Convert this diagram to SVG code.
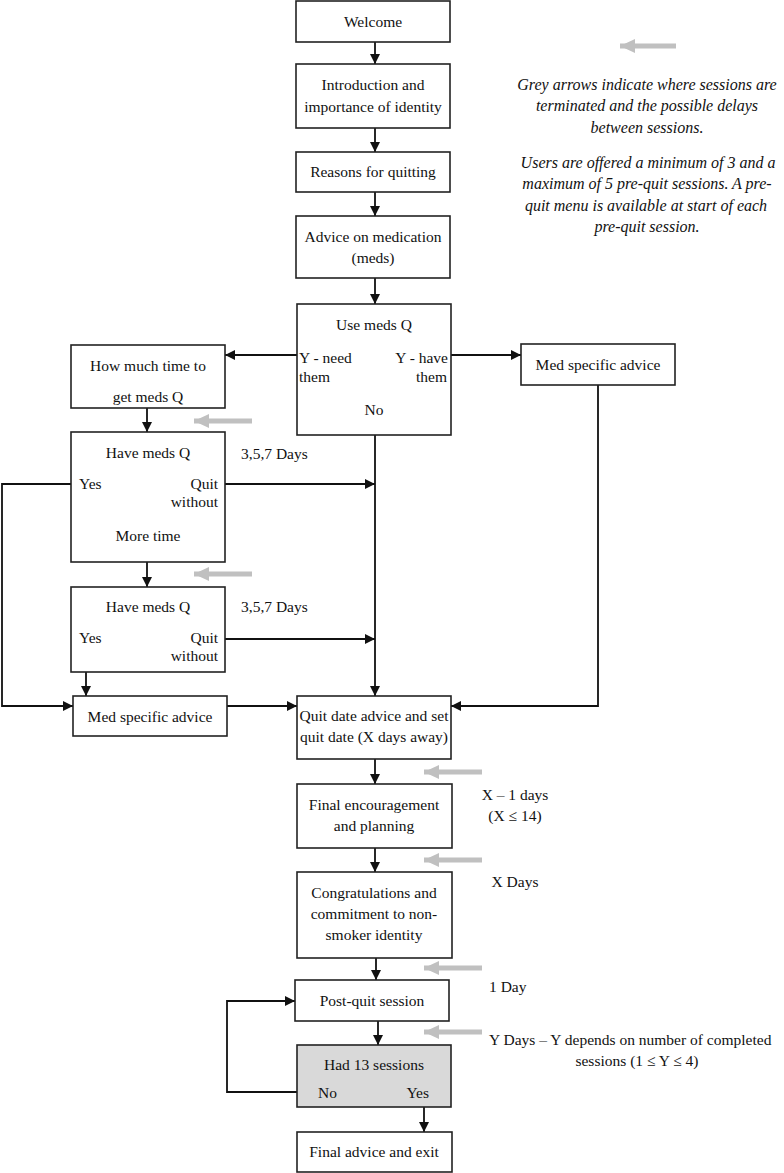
<svg xmlns="http://www.w3.org/2000/svg" width="784" height="1173" viewBox="0 0 784 1173">
<style>
.box{fill:#fff;stroke:#222;stroke-width:1.6}
.grey{fill:#d9d9d9;stroke:#222;stroke-width:1.6}
text{font-family:"Liberation Serif","Times New Roman",serif;font-size:15.5px;fill:#111}
.c{text-anchor:middle}
.r{text-anchor:end}
.it{font-style:italic;font-size:16px;text-anchor:middle}
.con{fill:none;stroke:#111;stroke-width:1.8;marker-end:url(#ah)}
.line{fill:none;stroke:#111;stroke-width:1.8}
.ga{fill:none;stroke:#c0c0c0;stroke-width:5;marker-end:url(#gh)}
</style>
<defs>
<marker id="ah" markerUnits="userSpaceOnUse" markerWidth="11" markerHeight="10" refX="10" refY="5" orient="auto"><path d="M0,0 L10,5 L0,10 z" fill="#111"/></marker>
<marker id="gh" markerUnits="userSpaceOnUse" markerWidth="16" markerHeight="16" refX="15" refY="8" orient="auto"><path d="M0,1 L15,8 L0,15 z" fill="#c0c0c0"/></marker>
</defs>
<rect width="784" height="1173" fill="#fff"/>

<g id="legend">
<line class="ga" x1="676" y1="46" x2="620" y2="46"/>
<text class="it" x="647" y="90">Grey arrows indicate where sessions are</text>
<text class="it" x="647" y="111">terminated and the possible delays</text>
<text class="it" x="647" y="133">between sessions.</text>
<text class="it" x="648" y="168">Users are offered a minimum of 3 and a</text>
<text class="it" x="647" y="189">maximum of 5 pre-quit sessions. A pre-</text>
<text class="it" x="646" y="211">quit menu is available at start of each</text>
<text class="it" x="647" y="232">pre-quit session.</text>
</g>

<g id="connectors">
<path class="con" d="M375,42 V64"/>
<path class="con" d="M375,128 V152"/>
<path class="con" d="M375,192 V216"/>
<path class="con" d="M375,278 V304"/>
<path class="con" d="M297,355 H225"/>
<path class="con" d="M451,355 H521"/>
<path class="con" d="M147,408 V432"/>
<path class="con" d="M225,484 H375"/>
<path class="con" d="M71,484 H2 V706 H73"/>
<path class="con" d="M147,562 V587"/>
<path class="con" d="M225,639 H375"/>
<path class="con" d="M86,672 V696"/>
<path class="con" d="M227,706 H297"/>
<path class="con" d="M375,435 V696"/>
<path class="con" d="M598,385 V706 H451"/>
<path class="con" d="M375,759 V784"/>
<path class="con" d="M375,848 V872"/>
<path class="con" d="M376,958 V980"/>
<path class="con" d="M378,1021 V1045"/>
<path class="con" d="M297,1092 H227 V1001 H295"/>
<path class="con" d="M424,1107 V1132"/>
</g>

<g id="grey-arrows">
<line class="ga" x1="252" y1="421" x2="194" y2="421"/>
<line class="ga" x1="252" y1="574" x2="194" y2="574"/>
<line class="ga" x1="482" y1="772" x2="424" y2="772"/>
<line class="ga" x1="482" y1="860" x2="424" y2="860"/>
<line class="ga" x1="482" y1="968" x2="424" y2="968"/>
<line class="ga" x1="482" y1="1032" x2="424" y2="1032"/>
</g>

<g id="welcome"><rect class="box" x="296" y="1" width="154" height="41"/><text class="c" x="373" y="27">Welcome</text></g>
<g id="intro"><rect class="box" x="296" y="64" width="154" height="64"/><text class="c" x="373" y="90">Introduction and</text><text class="c" x="373" y="112">importance of identity</text></g>
<g id="reasons"><rect class="box" x="296" y="152" width="154" height="40"/><text class="c" x="373" y="177">Reasons for quitting</text></g>
<g id="advice"><rect class="box" x="296" y="216" width="154" height="62"/><text class="c" x="373" y="242">Advice on medication</text><text class="c" x="373" y="263">(meds)</text></g>
<g id="usemeds"><rect class="box" x="297" y="304" width="154" height="131"/>
<text class="c" x="374" y="330">Use meds Q</text>
<text x="299" y="363">Y - need</text><text x="299" y="382">them</text>
<text class="r" x="448" y="363">Y - have</text><text class="r" x="447" y="382">them</text>
<text class="c" x="374" y="415">No</text></g>
<g id="howmuch"><rect class="box" x="71" y="345" width="154" height="63"/><text class="c" x="148" y="371">How much time to</text><text class="c" x="148" y="402">get meds Q</text></g>
<g id="medright"><rect class="box" x="521" y="344" width="154" height="41"/><text class="c" x="598" y="370">Med specific advice</text></g>
<g id="havemeds1"><rect class="box" x="71" y="432" width="154" height="130"/>
<text class="c" x="148" y="458">Have meds Q</text>
<text x="79" y="489">Yes</text><text class="r" x="218" y="489">Quit</text><text class="r" x="218" y="507">without</text>
<text class="c" x="148" y="541">More time</text></g>
<text x="241" y="459">3,5,7 Days</text>
<g id="havemeds2"><rect class="box" x="71" y="587" width="154" height="85"/>
<text class="c" x="148" y="612">Have meds Q</text>
<text x="79" y="643">Yes</text><text class="r" x="218" y="643">Quit</text><text class="r" x="218" y="661">without</text></g>
<text x="241" y="612">3,5,7 Days</text>
<g id="medleft"><rect class="box" x="73" y="696" width="154" height="40"/><text class="c" x="150" y="722">Med specific advice</text></g>
<g id="quitdate"><rect class="box" x="297" y="696" width="154" height="63"/><text class="c" x="374" y="721">Quit date advice and set</text><text class="c" x="374" y="742">quit date (X days away)</text></g>
<g id="finalenc"><rect class="box" x="297" y="784" width="155" height="64"/><text class="c" x="374" y="810">Final encouragement</text><text class="c" x="374" y="831">and planning</text></g>
<text class="c" x="515" y="800">X – 1 days</text>
<text class="c" x="515" y="821">(X ≤ 14)</text>
<g id="congrats"><rect class="box" x="297" y="872" width="155" height="86"/><text class="c" x="374" y="898">Congratulations and</text><text class="c" x="374" y="919">commitment to non-</text><text class="c" x="374" y="940">smoker identity</text></g>
<text class="c" x="515" y="887">X Days</text>
<g id="postquit"><rect class="box" x="295" y="980" width="154" height="41"/><text class="c" x="372" y="1006">Post-quit session</text></g>
<text x="489" y="992">1 Day</text>
<g id="had13"><rect class="grey" x="297" y="1045" width="154" height="62"/>
<text class="c" x="374" y="1070">Had 13 sessions</text>
<text x="318" y="1098">No</text><text class="r" x="429" y="1098">Yes</text></g>
<text x="489" y="1045">Y Days – Y depends on number of completed</text>
<text class="c" x="637" y="1066">sessions (1 ≤ Y ≤ 4)</text>
<g id="finaladvice"><rect class="box" x="297" y="1132" width="155" height="40"/><text class="c" x="374" y="1157">Final advice and exit</text></g>
</svg>
